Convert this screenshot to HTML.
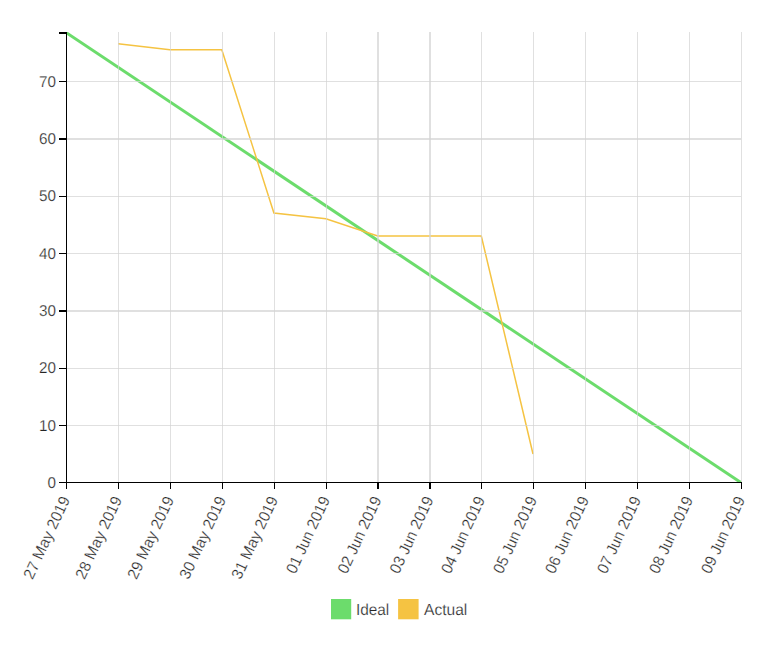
<!DOCTYPE html>
<html><head><meta charset="utf-8"><title>Burndown</title>
<style>html,body{margin:0;padding:0;background:#fff;overflow:hidden}svg{display:block}text{font-family:"Liberation Sans",sans-serif;font-size:15.7px;fill:#252525;text-rendering:geometricPrecision;stroke:#fff;stroke-width:0.25px}.lg{font-size:16px}</style></head><body>
<svg width="775" height="649" viewBox="0 0 775 649">
<rect width="775" height="649" fill="#fff"/>
<defs><clipPath id="c"><rect x="66" y="32" width="676" height="451"/></clipPath></defs>
<g clip-path="url(#c)">
<path d="M66.10,32.60L740.80,482.50" fill="none" stroke="#6cdc6c" stroke-width="3"/>
<path d="M118.00,43.80L169.90,49.65L221.80,49.65L273.90,213.00L325.90,218.80L377.70,236.00L429.60,236.00L481.30,236.00L533.00,454.00" fill="none" stroke="#f5c342" stroke-width="1.5"/>
</g>
<g fill="#d3d3d3" fill-opacity="0.7" shape-rendering="crispEdges">
<rect x="118" y="32" width="1" height="450"/>
<rect x="170" y="32" width="1" height="450"/>
<rect x="222" y="32" width="1" height="450"/>
<rect x="274" y="32" width="1" height="450"/>
<rect x="326" y="32" width="1" height="450"/>
<rect x="377" y="32" width="2" height="450"/>
<rect x="429" y="32" width="2" height="450"/>
<rect x="481" y="32" width="1" height="450"/>
<rect x="533" y="32" width="1" height="450"/>
<rect x="585" y="32" width="1" height="450"/>
<rect x="637" y="32" width="1" height="450"/>
<rect x="689" y="32" width="1" height="450"/>
<rect x="741" y="32" width="1" height="450"/>
<rect x="67" y="81" width="674" height="1"/>
<rect x="67" y="138" width="674" height="2"/>
<rect x="67" y="196" width="674" height="1"/>
<rect x="67" y="253" width="674" height="1"/>
<rect x="67" y="310" width="674" height="2"/>
<rect x="67" y="368" width="674" height="1"/>
<rect x="67" y="425" width="674" height="1"/>
</g>
<g fill="#000" shape-rendering="crispEdges">
<rect x="66" y="32" width="1" height="451"/>
<rect x="59" y="32" width="8" height="2"/>
<rect x="66" y="482" width="676" height="1"/>
<rect x="59" y="81" width="7" height="1"/>
<rect x="59" y="138" width="7" height="2"/>
<rect x="59" y="196" width="7" height="1"/>
<rect x="59" y="253" width="7" height="1"/>
<rect x="59" y="310" width="7" height="2"/>
<rect x="59" y="368" width="7" height="1"/>
<rect x="59" y="425" width="7" height="1"/>
<rect x="59" y="482" width="7" height="1"/>
<rect x="66" y="482" width="1" height="7"/>
<rect x="118" y="482" width="1" height="7"/>
<rect x="170" y="482" width="1" height="7"/>
<rect x="222" y="482" width="1" height="7"/>
<rect x="274" y="482" width="1" height="7"/>
<rect x="326" y="482" width="1" height="7"/>
<rect x="377" y="482" width="2" height="7"/>
<rect x="429" y="482" width="2" height="7"/>
<rect x="481" y="482" width="1" height="7"/>
<rect x="533" y="482" width="1" height="7"/>
<rect x="585" y="482" width="1" height="7"/>
<rect x="637" y="482" width="1" height="7"/>
<rect x="689" y="482" width="1" height="7"/>
<rect x="741" y="482" width="1" height="7"/>
</g>
<text x="56.1" y="86.85" text-anchor="end" textLength="17.00" lengthAdjust="spacingAndGlyphs">70</text>
<text x="56.1" y="143.85" text-anchor="end" textLength="17.00" lengthAdjust="spacingAndGlyphs">60</text>
<text x="56.1" y="200.85" text-anchor="end" textLength="17.00" lengthAdjust="spacingAndGlyphs">50</text>
<text x="56.1" y="258.85" text-anchor="end" textLength="17.00" lengthAdjust="spacingAndGlyphs">40</text>
<text x="56.1" y="315.85" text-anchor="end" textLength="17.00" lengthAdjust="spacingAndGlyphs">30</text>
<text x="56.1" y="372.85" text-anchor="end" textLength="17.00" lengthAdjust="spacingAndGlyphs">20</text>
<text x="56.1" y="430.85" text-anchor="end" textLength="17.00" lengthAdjust="spacingAndGlyphs">10</text>
<text x="56.1" y="487.85" text-anchor="end" textLength="8.50" lengthAdjust="spacingAndGlyphs">0</text>
<g transform="translate(66.50,482.7) rotate(-65)">
<text x="-102.67" y="10.48" textLength="17.00" lengthAdjust="spacingAndGlyphs">27</text>
<text x="-81.37" y="10.48" textLength="29.40" lengthAdjust="spacingAndGlyphs">May</text>
<text x="-47.67" y="10.48" textLength="34.00" lengthAdjust="spacingAndGlyphs">2019</text>
</g>
<g transform="translate(118.50,482.7) rotate(-65)">
<text x="-102.67" y="10.48" textLength="17.00" lengthAdjust="spacingAndGlyphs">28</text>
<text x="-81.37" y="10.48" textLength="29.40" lengthAdjust="spacingAndGlyphs">May</text>
<text x="-47.67" y="10.48" textLength="34.00" lengthAdjust="spacingAndGlyphs">2019</text>
</g>
<g transform="translate(170.50,482.7) rotate(-65)">
<text x="-102.67" y="10.48" textLength="17.00" lengthAdjust="spacingAndGlyphs">29</text>
<text x="-81.37" y="10.48" textLength="29.40" lengthAdjust="spacingAndGlyphs">May</text>
<text x="-47.67" y="10.48" textLength="34.00" lengthAdjust="spacingAndGlyphs">2019</text>
</g>
<g transform="translate(222.50,482.7) rotate(-65)">
<text x="-102.67" y="10.48" textLength="17.00" lengthAdjust="spacingAndGlyphs">30</text>
<text x="-81.37" y="10.48" textLength="29.40" lengthAdjust="spacingAndGlyphs">May</text>
<text x="-47.67" y="10.48" textLength="34.00" lengthAdjust="spacingAndGlyphs">2019</text>
</g>
<g transform="translate(274.50,482.7) rotate(-65)">
<text x="-102.67" y="10.48" textLength="17.00" lengthAdjust="spacingAndGlyphs">31</text>
<text x="-81.37" y="10.48" textLength="29.40" lengthAdjust="spacingAndGlyphs">May</text>
<text x="-47.67" y="10.48" textLength="34.00" lengthAdjust="spacingAndGlyphs">2019</text>
</g>
<g transform="translate(326.50,482.7) rotate(-65)">
<text x="-96.72" y="10.48" textLength="17.00" lengthAdjust="spacingAndGlyphs">01</text>
<text x="-75.42" y="10.48" textLength="23.45" lengthAdjust="spacingAndGlyphs">Jun</text>
<text x="-47.67" y="10.48" textLength="34.00" lengthAdjust="spacingAndGlyphs">2019</text>
</g>
<g transform="translate(378.00,482.7) rotate(-65)">
<text x="-96.72" y="10.48" textLength="17.00" lengthAdjust="spacingAndGlyphs">02</text>
<text x="-75.42" y="10.48" textLength="23.45" lengthAdjust="spacingAndGlyphs">Jun</text>
<text x="-47.67" y="10.48" textLength="34.00" lengthAdjust="spacingAndGlyphs">2019</text>
</g>
<g transform="translate(430.00,482.7) rotate(-65)">
<text x="-96.72" y="10.48" textLength="17.00" lengthAdjust="spacingAndGlyphs">03</text>
<text x="-75.42" y="10.48" textLength="23.45" lengthAdjust="spacingAndGlyphs">Jun</text>
<text x="-47.67" y="10.48" textLength="34.00" lengthAdjust="spacingAndGlyphs">2019</text>
</g>
<g transform="translate(481.50,482.7) rotate(-65)">
<text x="-96.72" y="10.48" textLength="17.00" lengthAdjust="spacingAndGlyphs">04</text>
<text x="-75.42" y="10.48" textLength="23.45" lengthAdjust="spacingAndGlyphs">Jun</text>
<text x="-47.67" y="10.48" textLength="34.00" lengthAdjust="spacingAndGlyphs">2019</text>
</g>
<g transform="translate(533.50,482.7) rotate(-65)">
<text x="-96.72" y="10.48" textLength="17.00" lengthAdjust="spacingAndGlyphs">05</text>
<text x="-75.42" y="10.48" textLength="23.45" lengthAdjust="spacingAndGlyphs">Jun</text>
<text x="-47.67" y="10.48" textLength="34.00" lengthAdjust="spacingAndGlyphs">2019</text>
</g>
<g transform="translate(585.50,482.7) rotate(-65)">
<text x="-96.72" y="10.48" textLength="17.00" lengthAdjust="spacingAndGlyphs">06</text>
<text x="-75.42" y="10.48" textLength="23.45" lengthAdjust="spacingAndGlyphs">Jun</text>
<text x="-47.67" y="10.48" textLength="34.00" lengthAdjust="spacingAndGlyphs">2019</text>
</g>
<g transform="translate(637.50,482.7) rotate(-65)">
<text x="-96.72" y="10.48" textLength="17.00" lengthAdjust="spacingAndGlyphs">07</text>
<text x="-75.42" y="10.48" textLength="23.45" lengthAdjust="spacingAndGlyphs">Jun</text>
<text x="-47.67" y="10.48" textLength="34.00" lengthAdjust="spacingAndGlyphs">2019</text>
</g>
<g transform="translate(689.50,482.7) rotate(-65)">
<text x="-96.72" y="10.48" textLength="17.00" lengthAdjust="spacingAndGlyphs">08</text>
<text x="-75.42" y="10.48" textLength="23.45" lengthAdjust="spacingAndGlyphs">Jun</text>
<text x="-47.67" y="10.48" textLength="34.00" lengthAdjust="spacingAndGlyphs">2019</text>
</g>
<g transform="translate(741.50,482.7) rotate(-65)">
<text x="-96.72" y="10.48" textLength="17.00" lengthAdjust="spacingAndGlyphs">09</text>
<text x="-75.42" y="10.48" textLength="23.45" lengthAdjust="spacingAndGlyphs">Jun</text>
<text x="-47.67" y="10.48" textLength="34.00" lengthAdjust="spacingAndGlyphs">2019</text>
</g>
<rect x="331" y="599" width="20.2" height="20.3" fill="#6cdc6c"/>
<text class="lg" x="355.95" y="615" textLength="33.3" lengthAdjust="spacingAndGlyphs">Ideal</text>
<rect x="398.1" y="599" width="20.5" height="20.3" fill="#f5c342"/>
<text class="lg" x="424.0" y="615" textLength="43.25" lengthAdjust="spacingAndGlyphs">Actual</text>
</svg></body></html>
